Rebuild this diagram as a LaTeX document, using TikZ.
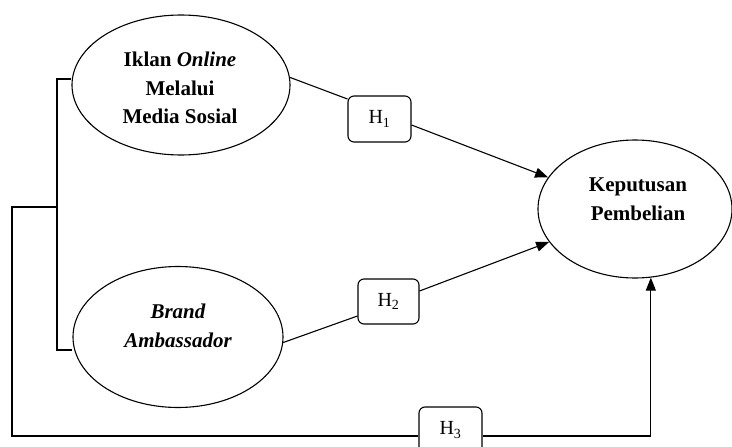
\documentclass[tikz,border=0pt]{standalone}
\usepackage{fontspec}
\setmainfont{Liberation Serif}
\usetikzlibrary{shapes.geometric,arrows.meta,calc}
\begin{document}
\begin{tikzpicture}[x=1pt,y=-1pt,
  line width=1.1pt,
  varnode/.style={ellipse,draw,inner sep=0pt},
  vartext/.style={align=center,inner sep=0pt,font=\fontsize{21}{28.5}\selectfont\bfseries},
  hyp/.style={draw,rounded corners=6pt,inner sep=0pt,font=\fontsize{20}{24}\selectfont},
  arr/.style={-{Triangle[length=13pt,width=10pt]}}
]
\fill[white] (0,0) rectangle (732,447);
\useasboundingbox (0,0) rectangle (732,447);
% variables
\node[varnode,minimum width=218pt,minimum height=140pt] (iklan) at (181,85) {};
\node[vartext] (iklanT) at (180,88) {Iklan \textit{Online}\\Melalui\\Media Sosial};
\node[varnode,minimum width=210pt,minimum height=141pt] (brand) at (178,337) {};
\node[vartext,font=\fontsize{21}{28.5}\selectfont\bfseries\itshape] (brandT) at (178,326) {Brand\\Ambassador};
\node[varnode,minimum width=194pt,minimum height=138pt] (kep) at (635,209) {};
\node[vartext] (kepT) at (638,199) {Keputusan\\Pembelian};
% hypotheses
\node[hyp,minimum width=63pt,minimum height=46pt] (h1) at (379.5,119) {H\textsubscript{1}};
\node[hyp,minimum width=61pt,minimum height=45pt] (h2) at (388.5,301.5) {H\textsubscript{2}};
\node[hyp,minimum width=63pt,minimum height=58pt] (h3) at (450.5,436) {};
\node[font=\fontsize{20}{24}\selectfont,inner sep=0pt] (h3T) at (450.5,430) {H\textsubscript{3}};
% bracket
\coordinate (bt) at (57,79);
\coordinate (bb) at (57,350);
\coordinate (bm) at (57,207);
\coordinate (bl) at (12,207);
\coordinate (bd) at (12,436);
\draw (iklan.west |- bt) -- (bt) -- (bb) -- (brand.west |- bb);
\draw (bm) -- (bl) -- (bd) -- (h3.west);
\draw[arr] (h3.east) -| (kep.-77);
% H1, H2
\draw (iklan.4) -- ([yshift=20pt]h1.west);
\draw[arr] ([yshift=-6pt]h1.east) -- (kep.160);
\draw (brand.-3) -- ([yshift=-14.5pt]h2.west);
\draw[arr] ([yshift=10.5pt]h2.east) -- (kep.201);
\end{tikzpicture}
\end{document}
